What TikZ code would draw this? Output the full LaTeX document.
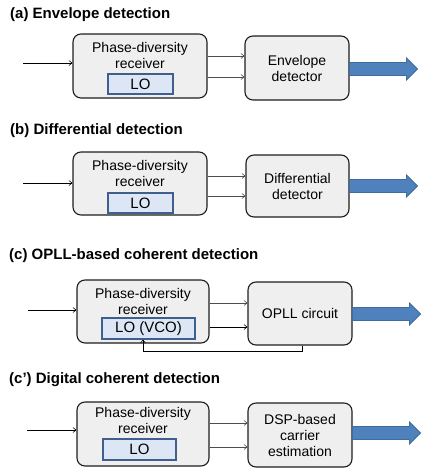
\documentclass[tikz,border=0pt]{standalone}
\usepackage{fontspec}
\setmainfont{Liberation Sans}
\usetikzlibrary{arrows.meta}
\definecolor{boxfill}{HTML}{EFEFEF}
\definecolor{boxline}{HTML}{1E1E1E}
\definecolor{lofill}{HTML}{DCE6F4}
\definecolor{loline}{HTML}{3F5F8F}
\definecolor{bigfill}{HTML}{4F81BD}
\definecolor{bigline}{HTML}{3E6E9E}
\tikzset{
  title/.style={anchor=west,inner sep=0pt,font=\fontsize{15}{18}\selectfont\bfseries},
  blk/.style={draw=boxline,fill=boxfill,line width=1.1pt,rounded corners=8pt,inner sep=0pt},
  lobox/.style={draw=loline,fill=lofill,line width=1.1pt,inner sep=0pt,font=\fontsize{15}{17}\selectfont},
  txt/.style={align=center,inner sep=0pt,font=\fontsize{14}{16}\selectfont},
  sarrow/.style={line width=0.6pt,-{Straight Barb[length=3pt,width=5pt]}},
  garrow/.style={sarrow,draw=black!70},
  bigarrow/.style={draw=bigline,fill=bigfill,line width=0.8pt,line join=miter}
}
\newcommand{\mkbox}[5]{% name, x1,y1,x2,y2
  \node[blk,minimum width={#4-#2},minimum height={#5-#3}] (#1) at ({(#2+#4)/2},{(#3+#5)/2}) {};}
\newcommand{\mklo}[6]{% name, x1,y1,x2,y2,text
  \node[lobox,minimum width={#4-#2},minimum height={#5-#3}] (#1) at ({(#2+#4)/2},{(#3+#5)/2}) {#6};}
\newcommand{\bigarr}[3]{% start coordinate name, shaft length, head length
  \draw[bigarrow] (#1) ++(0,-6.5) -- ++(#2,0) -- ++(0,-4.5) -- ++(#3,11) -- ++(-#3,11) -- ++(0,-4.5) -- ++(-#2,0) -- cycle;}
\begin{document}
\begin{tikzpicture}[x=1pt,y=-1pt]
\useasboundingbox (0,0) rectangle (421,474);
% (a)
\node[title] (ta) at (10,15) {(a) Envelope detection};
\mkbox{ra}{73}{34}{207}{98}
\node[txt] (pa) at (140,55) {Phase-diversity\\receiver};
\mklo{loa}{108}{74}{173}{94}{LO}
\mkbox{da}{245}{36}{349}{100}
\node[txt] (dta) at (da.center) {Envelope\\detector};
\coordinate (ia) at (23,63);
\draw[sarrow] (ia) -- (ra.west |- ia);
\draw[garrow] (ra.east |- 0,56) -- (da.west |- 0,56);
\draw[garrow] (ra.east |- 0,77) -- (da.west |- 0,77);
\coordinate (sa) at (da.east |- 0,69);
\bigarr{sa}{57}{11}
% (b)
\node[title] (tb) at (10,131) {(b) Differential detection};
\mkbox{rb}{73}{152}{207}{215}
\node[txt] (pb) at (140,173) {Phase-diversity\\receiver};
\mklo{lob}{108}{193}{173}{213}{LO}
\mkbox{db}{246}{155}{349}{217}
\node[txt] (dtb) at (db.center) {Differential\\detector};
\coordinate (ib) at (23,183);
\draw[sarrow] (ib) -- (rb.west |- ib);
\draw[garrow] (rb.east |- 0,176) -- (db.west |- 0,176);
\draw[garrow] (rb.east |- 0,196) -- (db.west |- 0,196);
\coordinate (sb) at (db.east |- 0,186);
\bigarr{sb}{57}{11}
% (c)
\node[title] (tc) at (9,256) {(c) OPLL-based coherent detection};
\mkbox{rc}{77}{280}{209}{343}
\node[txt] (pc) at (143,301) {Phase-diversity\\receiver};
\mklo{loc}{102}{318}{195}{339}{LO (VCO)}
\mkbox{dc}{248}{282}{352}{345}
\node[txt] (dtc) at (dc.center) {OPLL circuit};
\coordinate (ic) at (28,310);
\draw[sarrow] (ic) -- (rc.west |- ic);
\draw[garrow] (rc.east |- 0,303) -- (dc.west |- 0,303);
\draw[sarrow] (rc.east |- 0,327) -- (dc.west |- 0,327);
\coordinate (sc) at (dc.east |- 0,314);
\bigarr{sc}{57}{11}
\coordinate (fb) at (143,351);
\draw[sarrow] (dc.south -| 302,0) |- (fb) -- (loc.south -| fb);
% (c')
\node[title] (td) at (9,380) {(c’) Digital coherent detection};
\mkbox{rd}{77}{402}{209}{466}
\node[txt] (pd) at (143,420) {Phase-diversity\\receiver};
\mklo{lod}{103}{439}{176}{460}{LO}
\mkbox{dd}{248}{403}{352}{467}
\node[txt] (dtd) at (dd.center) {DSP-based\\carrier\\estimation};
\coordinate (id) at (27,430);
\draw[sarrow] (id) -- (rd.west |- id);
\draw[garrow] (rd.east |- 0,423) -- (dd.west |- 0,423);
\draw[garrow] (rd.east |- 0,447) -- (dd.west |- 0,447);
\coordinate (sd) at (dd.east |- 0,433);
\bigarr{sd}{57}{11}
\end{tikzpicture}
\end{document}
